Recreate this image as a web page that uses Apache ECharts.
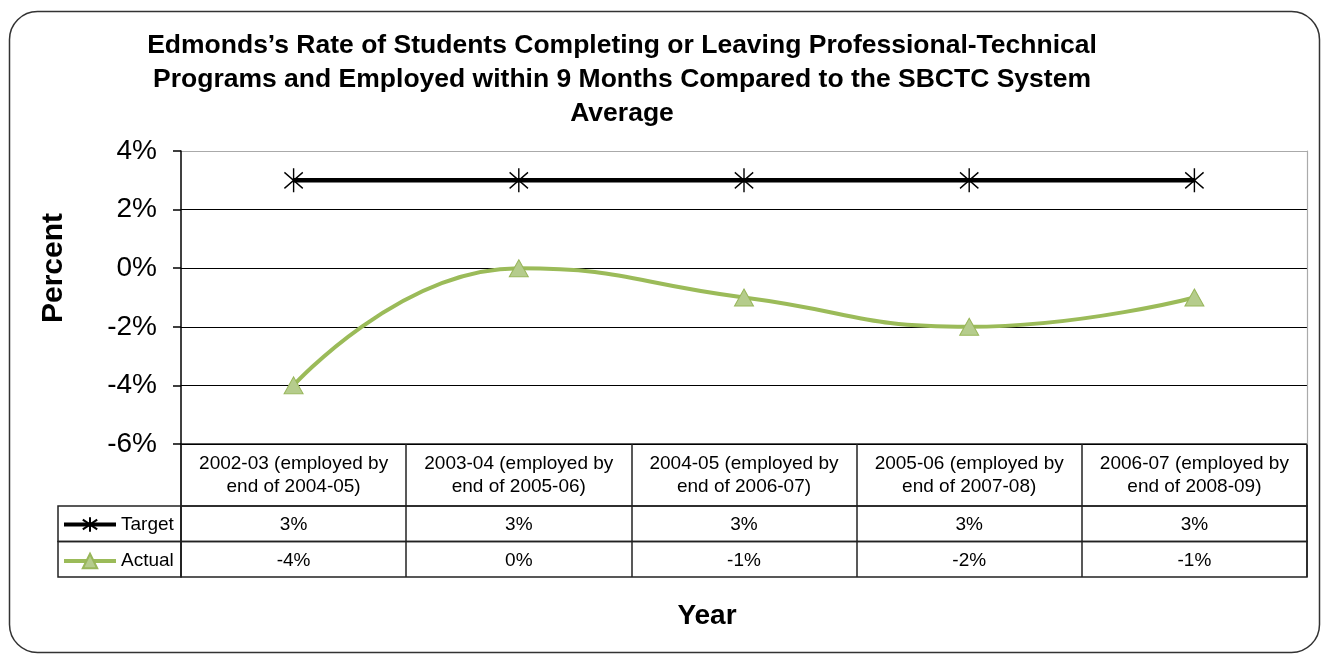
<!DOCTYPE html>
<html>
<head>
<meta charset="utf-8">
<script src="https://cdn.jsdelivr.net/npm/echarts@6/dist/echarts.min.js"></script>
<style>
html,body{margin:0;padding:0;background:#fff;}
#chart{width:1321px;height:654px;}
</style>
</head>
<body>
<div id="chart"></div>
<script>
const titleText = "Edmonds\u2019s Rate of Students Completing or Leaving Professional-Technical\nPrograms and Employed within 9 Months Compared to the SBCTC System\nAverage";
const categories = [
  "2002-03 (employed by\nend of 2004-05)",
  "2003-04 (employed by\nend of 2005-06)",
  "2004-05 (employed by\nend of 2006-07)",
  "2005-06 (employed by\nend of 2007-08)",
  "2006-07 (employed by\nend of 2008-09)"
];
const targetValues = [3, 3, 3, 3, 3];
const actualValues = [-4, 0, -1, -2, -1];
const yAxisName = "Percent";
const xAxisName = "Year";
const seriesNames = ["Target", "Actual"];

const FONT = "'Liberation Sans', Arial, sans-serif";
const LINE = '#222';
const starPath = 'path://M10.5,0V24M0,4L21,20M0,20L21,4';

const chart = echarts.init(document.getElementById('chart'), null, {renderer: 'canvas'});

function tableGrid(left, top, width, height) {
  return {left: left, top: top, width: width, height: height, show: true,
    borderColor: LINE, borderWidth: 1.5, backgroundColor: 'transparent', containLabel: false};
}
function tableXAxis(gi, labelOpts) {
  return {type: 'category', gridIndex: gi, data: categories, boundaryGap: true,
    axisLine: {show: false}, axisTick: {show: false},
    axisLabel: labelOpts || {show: false},
    splitLine: {show: true, interval: 0, lineStyle: {color: LINE, width: 1.5}}};
}
function hiddenYAxis(gi) {
  return {type: 'category', gridIndex: gi, data: ['r'], show: false};
}
function cellSeries(name, xi, yi, values) {
  return {
    name: name, type: 'scatter', xAxisIndex: xi, yAxisIndex: yi,
    data: values.map((v, i) => [i, 0]), symbolSize: 2, silent: true,
    itemStyle: {color: 'rgba(0,0,0,0)', opacity: 1},
    label: {show: true, position: 'inside', offset: [0, 1.5], formatter: p => values[p.dataIndex] + '%',
      fontFamily: FONT, fontSize: 19, color: '#000', opacity: 1}
  };
}

const option = {
  animation: false,
  backgroundColor: '#fff',
  title: {
    text: titleText, left: 622, top: 29, padding: 0, textAlign: 'center',
    textStyle: {fontFamily: FONT, fontSize: 26.5, fontWeight: 'bold', color: '#000', lineHeight: 34}
  },
  legend: {
    data: seriesNames, orient: 'vertical', left: 62, top: 515,
    itemWidth: 52, itemHeight: 18, itemGap: 17.5, padding: 0,
    lineStyle: {width: 4},
    textStyle: {fontFamily: FONT, fontSize: 19, color: '#000'}
  },
  grid: [
    {left: 181, top: 151, width: 1126, height: 293, show: false},
    tableGrid(181, 444, 1126, 62),
    tableGrid(181, 506, 1126, 35.5),
    tableGrid(181, 541.5, 1126, 35.5),
    tableGrid(58, 506, 123, 35.5),
    tableGrid(58, 541.5, 123, 35.5)
  ],
  xAxis: [
    {type: 'category', gridIndex: 0, data: categories, boundaryGap: true,
     axisLine: {show: false}, axisTick: {show: false}, axisLabel: {show: false}, splitLine: {show: false}},
    tableXAxis(1, {show: true, interval: 0, margin: -31, verticalAlign: 'middle', align: 'center',
      fontFamily: FONT, fontSize: 19, lineHeight: 23, color: '#000'}),
    tableXAxis(2),
    tableXAxis(3),
    {type: 'category', gridIndex: 4, data: ['c'], show: false},
    {type: 'category', gridIndex: 5, data: ['c'], show: false}
  ],
  yAxis: [
    {type: 'value', gridIndex: 0, min: -6, max: 4, interval: 2,
     axisLine: {show: true, lineStyle: {color: '#000', width: 1.5}},
     axisTick: {show: true, length: 8, lineStyle: {color: '#000', width: 1.5}},
     axisLabel: {formatter: v => v + '%', fontFamily: FONT, fontSize: 28, color: '#000', margin: 24},
     splitLine: {show: true, lineStyle: {color: ['#000', '#000', '#000', '#000', '#000', '#aaa'], width: 1.2}}},
    {type: 'value', gridIndex: 0, min: -6, max: 4, interval: 2, position: 'right',
     axisLine: {show: true, lineStyle: {color: '#aaa', width: 1.2}},
     axisTick: {show: false}, axisLabel: {show: false}, splitLine: {show: false}},
    hiddenYAxis(1), hiddenYAxis(2), hiddenYAxis(3), hiddenYAxis(4), hiddenYAxis(5)
  ],
  series: [
    {
      name: seriesNames[0], type: 'line', xAxisIndex: 0, yAxisIndex: 0, data: targetValues,
      symbol: starPath, symbolSize: [21, 24], symbolKeepAspect: true, showAllSymbol: true,
      lineStyle: {color: '#000', width: 4.5},
      itemStyle: {color: '#000', borderColor: '#000', borderWidth: 1.5},
      z: 3
    },
    {
      name: seriesNames[1], type: 'line', xAxisIndex: 0, yAxisIndex: 0, data: actualValues,
      smooth: 0.5,
      symbol: 'triangle', symbolSize: [19, 17],
      lineStyle: {color: '#9BBB59', width: 4},
      itemStyle: {color: '#B5CC8C', borderColor: '#98B65A', borderWidth: 1},
      z: 4
    },
    cellSeries('TargetCells', 2, 3, targetValues),
    cellSeries('ActualCells', 3, 4, actualValues)
  ],
  graphic: [
    {type: 'rect', left: 7, top: 9, z: -1, silent: true,
     shape: {x: 0, y: 0, width: 1310, height: 641, r: 28},
     style: {fill: 'none', stroke: '#333', lineWidth: 1.5}},
    {type: 'text', x: 54, y: 268, rotation: Math.PI / 2, silent: true,
     style: {text: yAxisName, fontFamily: FONT, fontSize: 30, fontWeight: 'bold', fill: '#000',
       align: 'center', verticalAlign: 'middle'}},
    {type: 'text', x: 707, y: 616, silent: true,
     style: {text: xAxisName, fontFamily: FONT, fontSize: 28, fontWeight: 'bold', fill: '#000',
       align: 'center', verticalAlign: 'middle'}}
  ]
};
chart.setOption(option);
</script>
</body>
</html>
